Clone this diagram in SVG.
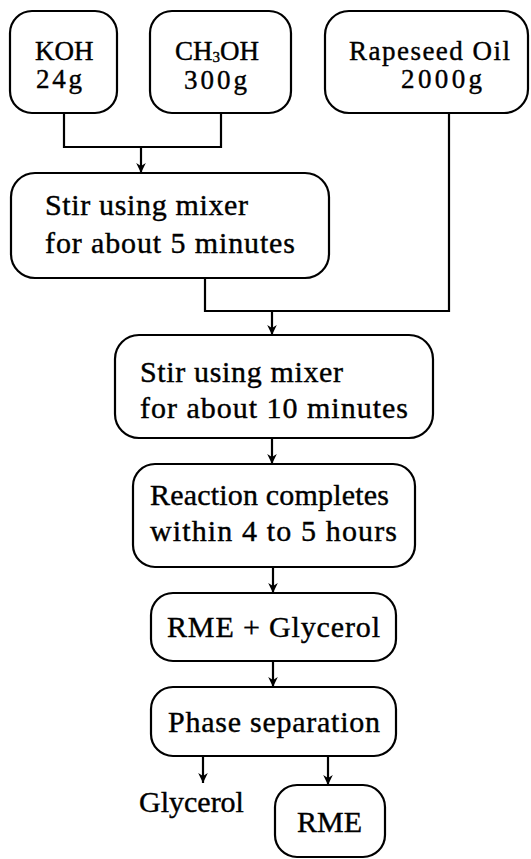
<svg xmlns="http://www.w3.org/2000/svg" width="531" height="859" viewBox="0 0 531 859">
<style>
.box{fill:#fff;stroke:#000;stroke-width:2.2}
.t{font-family:"Liberation Serif","Times New Roman",serif;font-size:30px;fill:#000;stroke:#000;stroke-width:0.4}
.s{font-size:27px}
.c{fill:none;stroke:#000;stroke-width:2.2}
</style>
<defs>
<marker id="ah" markerUnits="userSpaceOnUse" markerWidth="12" markerHeight="12" viewBox="-1 -6 12 12" refX="10" refY="0" orient="auto">
<path d="M0,-4.8 L10,0 L0,4.8 L3,0 Z" fill="#000"/>
</marker>
</defs>
<g id="connectors">
<polyline class="c" points="64,113 64,147 221,147 221,113"/>
<line class="c" x1="141" y1="147" x2="141" y2="173" marker-end="url(#ah)"/>
<polyline class="c" points="449,113 449,311 205,311 205,278"/>
<line class="c" x1="272" y1="311" x2="272" y2="335" marker-end="url(#ah)"/>
<line class="c" x1="272" y1="438" x2="272" y2="464" marker-end="url(#ah)"/>
<line class="c" x1="273" y1="567" x2="273" y2="593" marker-end="url(#ah)"/>
<line class="c" x1="273" y1="661" x2="273" y2="687" marker-end="url(#ah)"/>
<line class="c" x1="203" y1="756" x2="203" y2="783" marker-end="url(#ah)"/>
<line class="c" x1="328" y1="756" x2="328" y2="785" marker-end="url(#ah)"/>
</g>
<g id="koh">
<rect class="box" x="10" y="11" width="107" height="102" rx="22"/>
<text class="t s" x="35" y="60">KOH</text>
<text class="t s" x="36" y="88" textLength="46" lengthAdjust="spacing">24g</text>
</g>
<g id="ch3oh">
<rect class="box" x="150" y="11" width="141" height="102" rx="22"/>
<text class="t s" x="175" y="60">CH<tspan font-size="15" dy="1.5">3</tspan><tspan dy="-1.5">OH</tspan></text>
<text class="t s" x="184" y="89" textLength="63" lengthAdjust="spacing">300g</text>
</g>
<g id="rapeseed">
<rect class="box" x="325" y="11" width="203" height="102" rx="24"/>
<text class="t s" x="349" y="60" textLength="161" lengthAdjust="spacing">Rapeseed Oil</text>
<text class="t s" x="401" y="88" textLength="81" lengthAdjust="spacing">2000g</text>
</g>
<g id="stir5">
<rect class="box" x="11" y="173" width="318" height="105" rx="24"/>
<text class="t" x="45" y="215" textLength="203" lengthAdjust="spacing">Stir using mixer</text>
<text class="t" x="45" y="253" textLength="250" lengthAdjust="spacing">for about 5 minutes</text>
</g>
<g id="stir10">
<rect class="box" x="115" y="335" width="318" height="103" rx="24"/>
<text class="t" x="140" y="382" textLength="203" lengthAdjust="spacing">Stir using mixer</text>
<text class="t" x="140" y="418" textLength="268" lengthAdjust="spacing">for about 10 minutes</text>
</g>
<g id="reaction">
<rect class="box" x="133" y="464" width="282" height="103" rx="22"/>
<text class="t" x="150" y="505" textLength="239" lengthAdjust="spacing">Reaction completes</text>
<text class="t" x="150" y="541" textLength="247" lengthAdjust="spacing">within 4 to 5 hours</text>
</g>
<g id="rmeglycerol">
<rect class="box" x="151" y="593" width="245" height="68" rx="22"/>
<text class="t" x="167" y="637" textLength="213" lengthAdjust="spacing">RME + Glycerol</text>
</g>
<g id="phase">
<rect class="box" x="151" y="687" width="245" height="69" rx="22"/>
<text class="t" x="168" y="732" textLength="212" lengthAdjust="spacing">Phase separation</text>
</g>
<g id="glycerol">
<text class="t" x="139" y="812">Glycerol</text>
</g>
<g id="rme">
<rect class="box" x="275" y="785" width="110" height="72" rx="22"/>
<text class="t" x="297" y="832">RME</text>
</g>
</svg>
